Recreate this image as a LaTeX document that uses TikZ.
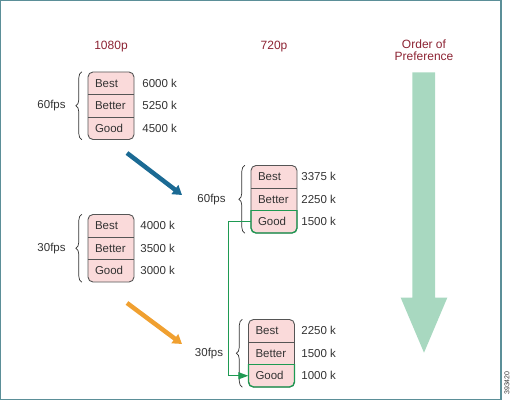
\documentclass[tikz,border=0pt]{standalone}
\usepackage{fontspec}
\setmainfont{Liberation Sans}
\usetikzlibrary{arrows.meta,decorations.pathreplacing,calc}
\definecolor{titlered}{HTML}{8C2333}
\definecolor{textgray}{HTML}{333333}
\definecolor{boxgray}{HTML}{555555}
\definecolor{cellfill}{HTML}{FADADA}
\definecolor{linkgreen}{HTML}{1E9A52}
\definecolor{mint}{HTML}{A8D8C0}
\definecolor{arrblue}{HTML}{1B6A94}
\definecolor{arrorange}{HTML}{F0A030}
\definecolor{framecol}{HTML}{5B8F98}
\newcommand\cellfont{\fontsize{11.5}{13}\selectfont}
% #1 name, #2 left, #3 top, #4-#6 values, #7 fps label, #8 value gap, #9 label gap
\newcommand\ladder[9]{%
  \coordinate (#1nw) at (#2,#3);
  \coordinate (#1se) at (#2+46,#3+67.5);
  \fill[cellfill, rounded corners=5pt] (#1nw) rectangle (#1se);
  \node[cell] (#1a) at (#2+23,#3+11.25) {Best};
  \node[cell] (#1b) at (#2+23,#3+33.75) {Better};
  \node[cell] (#1c) at (#2+23,#3+56.25) {Good};
  \draw[boxline, rounded corners=5pt] (#1nw) rectangle (#1se);
  \draw[boxline] (#1a.south west) -- (#1a.south east);
  \draw[boxline] (#1b.south west) -- (#1b.south east);
  \node[val] (#1va) at ([xshift=#8pt]#1a.east) {#4};
  \node[val] (#1vb) at ([xshift=#8pt]#1b.east) {#5};
  \node[val] (#1vc) at ([xshift=#8pt]#1c.east) {#6};
  \draw[bracestyle] ([xshift=-6pt]#1c.south west) -- ([xshift=-6pt]#1a.north west);
  \node[fps] (#1f) at ([xshift=-#9pt]#1b.west) {#7};
}
\newcommand\greengood[1]{%
  \begin{scope}
    \clip ($(#1c.north west)+(-3,0)$) rectangle ($(#1c.south east)+(3,3)$);
    \draw[greenline, rounded corners=5pt] (#1nw) rectangle (#1se);
  \end{scope}
  \draw[greenline] (#1c.north west) -- (#1c.north east);
}
\begin{document}
\begin{tikzpicture}[x=1pt,y=-1pt,
  cell/.style={inner xsep=7pt, inner ysep=0pt, text width=32pt, minimum height=22.5pt,
    align=left, font=\cellfont, text=textgray},
  val/.style={anchor=west, inner sep=0pt, font=\cellfont, text=textgray},
  fps/.style={anchor=east, inner sep=0pt, font=\cellfont, text=textgray},
  boxline/.style={draw=boxgray, line width=0.9pt},
  greenline/.style={color=linkgreen, line width=1.3pt},
  bracestyle/.style={draw=textgray, line width=0.7pt, decorate, decoration={brace, amplitude=6pt}},
  title/.style={font=\fontsize{12}{12.5}\selectfont, text=titlered, inner sep=0pt, align=center},
  flowarrow/.style={line width=4.5pt, -{Triangle[length=9pt,width=11pt]}}
]
\useasboundingbox (0,0) rectangle (511,401);
\draw[framecol, line width=1.3pt] (0.75,0.75) rectangle (501,399.5);
\node[font=\fontsize{7}{7}\selectfont, text=textgray, rotate=90, inner sep=0pt] (id) at (507,383) {393420};

\node[title] (t1080) at (111,46.5) {1080p};
\node[title] (t720) at (274,46.5) {720p};
\node[title] (tpref) at (424,50) {Order of\\Preference};

\ladder{ba}{88}{72}{6000 k}{5250 k}{4500 k}{60fps}{8}{22}
\ladder{bb}{88}{214.5}{4000 k}{3500 k}{3000 k}{30fps}{6}{22}
\ladder{bc}{251}{165.5}{3375 k}{2250 k}{1500 k}{60fps}{4}{25}
\ladder{bd}{248.5}{319.5}{2250 k}{1500 k}{1000 k}{30fps}{6.5}{25}

\greengood{bc}
\greengood{bd}
\draw[greenline, -{Triangle[length=10pt,width=7pt]}] (bcc.west) -- ++(-22.5,0) |- (bdc.west);

% flow arrows
\coordinate (bs) at (127,153);
\coordinate (be) at (182,195);
\coordinate (os) at (127,303);
\coordinate (oe) at (182,344);
\draw[flowarrow, arrblue] (bs) -- (be);
\draw[flowarrow, arrorange] (os) -- (oe);

% order of preference arrow
\fill[mint] (412.3,72.3) -- (435,72.3) -- (435,297.7) -- (447.3,297.7) -- (424,352.7)
  -- (400.7,297.7) -- (412.3,297.7) -- cycle;
\end{tikzpicture}
\end{document}
